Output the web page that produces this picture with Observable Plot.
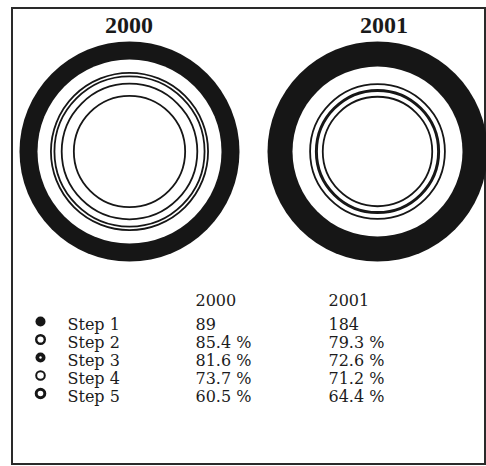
<!DOCTYPE html>
<html>
<head>
<meta charset="utf-8">
<script src="https://cdn.jsdelivr.net/npm/d3@7"></script>
<script src="https://cdn.jsdelivr.net/npm/@observablehq/plot@0.6"></script>
<style>
  body { margin: 0; background: #fff; }
  #root { position: relative; width: 486px; height: 466px; overflow: hidden; font-family: "Liberation Serif", serif; color: #1c1c1c; background: #fff; }
  #frame { position: absolute; left: 11px; top: 7px; width: 471px; height: 454px; border: 2px solid #2a2a2a; box-sizing: content-box; }
  .title { position: absolute; top: 13px; width: 120px; text-align: center; font-size: 24px; line-height: 24px; font-weight: bold; color: #1a1a1a; }
  .blk { position: absolute; }
  .blk svg { max-width: none !important; display: block; }
</style>
</head>
<body>
<div id="root">
  <div id="frame"></div>
</div>
<script>
// ---- data ----
const years = ["2000", "2001"];
const steps = ["Step 1", "Step 2", "Step 3", "Step 4", "Step 5"];
const values2000 = [89, 85.4, 81.6, 73.7, 60.5];   // Step 1 = count, others = % of Step 1
const values2001 = [184, 79.3, 72.6, 71.2, 64.4];

const valuesByYear = {"2000": values2000, "2001": values2001};
const fmt = (v, i) => i === 0 ? String(v) : v.toFixed(1) + " %";

const root = document.getElementById("root");
const ink = "#161616";

// ---- ring diagrams ----
function ringPlot(year, innerR, outerR) {
  const rows = steps.map((s, i) => ({year, step: s, pct: i === 0 ? 100 : valuesByYear[year][i]}));
  return Plot.plot({
    width: 240, height: 240, margin: 0,
    style: {background: "transparent", overflow: "visible"},
    x: {type: "point", domain: [year], axis: null},
    y: {type: "point", domain: [year], axis: null},
    r: {type: "linear", domain: [0, 100], range: [0, innerR]},
    marks: [
      Plot.dot(rows.slice(0, 1), {x: "year", y: "year", r: outerR, fill: ink}),
      Plot.dot(rows.slice(0, 1), {x: "year", y: "year", r: "pct", fill: "white"}),
      Plot.dot(rows.slice(1), {x: "year", y: "year", r: "pct", fill: "none", stroke: ink, strokeWidth: 1.8})
    ]
  });
}

const ringCfg = {"2000": {cx: 129, inner: 92, outer: 110}, "2001": {cx: 377, inner: 85, outer: 110}};
const titleX = {"2000": 129, "2001": 384};
years.forEach(y => {
  const c = ringCfg[y];
  const p = ringPlot(y, c.inner, c.outer);
  const wrap = document.createElement("div");
  wrap.className = "blk";
  wrap.style.left = (c.cx - 120) + "px";
  wrap.style.top = (151 - 120) + "px";
  wrap.style.width = "240px";
  wrap.appendChild(p);
  root.appendChild(wrap);
  const t = document.createElement("div");
  t.className = "title";
  t.style.left = (titleX[y] - 60) + "px";
  t.textContent = y;
  root.appendChild(t);
});

// ---- table ----
const cells = [];
years.forEach(y => steps.forEach((s, i) => cells.push({year: y, step: s, label: fmt(valuesByYear[y][i], i)})));

const font = {fontFamily: "DejaVu Serif", fontSize: 16, fill: "#1c1c1c"};
const table = Plot.plot({
  width: 486, height: 140, margin: 0,
  style: {background: "transparent", overflow: "visible"},
  x: {type: "point", domain: years, range: [195, 328], padding: 0, axis: null},
  y: {type: "point", domain: steps, range: [42, 117], padding: 0, axis: null},
  marks: [
    Plot.text(years, {x: d => d, frameAnchor: "top", dy: 20, lineAnchor: "middle", text: d => d, textAnchor: "start", ...font}),
    Plot.text(steps, {y: d => d, frameAnchor: "left", dx: 67, text: d => d, textAnchor: "start", lineAnchor: "middle", ...font}),
    Plot.text(cells, {x: "year", y: "step", text: "label", textAnchor: "start", lineAnchor: "middle", ...font}),
    // legend symbols
    Plot.dot(steps.filter((s, i) => i === 0), {y: d => d, frameAnchor: "left", dx: 40, dy: -3, r: 5, fill: ink}),
    Plot.dot(steps.filter((s, i) => i === 1), {y: d => d, frameAnchor: "left", dx: 40, dy: -3, r: 4.3, fill: "white", stroke: ink, strokeWidth: 2.4}),
    Plot.dot(steps.filter((s, i) => i === 2), {y: d => d, frameAnchor: "left", dx: 40, dy: -3, r: 5, fill: ink}),
    Plot.dot(steps.filter((s, i) => i === 2), {y: d => d, frameAnchor: "left", dx: 40, dy: -3, r: 1.2, fill: "white"}),
    Plot.dot(steps.filter((s, i) => i === 3), {y: d => d, frameAnchor: "left", dx: 40, dy: -3, r: 4.3, fill: "white", stroke: ink, strokeWidth: 2}),
    Plot.dot(steps.filter((s, i) => i === 4), {y: d => d, frameAnchor: "left", dx: 40, dy: -3, r: 4.3, fill: "white", stroke: ink, strokeWidth: 3})
  ]
});
const tw = document.createElement("div");
tw.className = "blk";
tw.style.left = "0px";
tw.style.top = "280px";
tw.style.width = "486px";
tw.appendChild(table);
root.appendChild(tw);
</script>
</body>
</html>
